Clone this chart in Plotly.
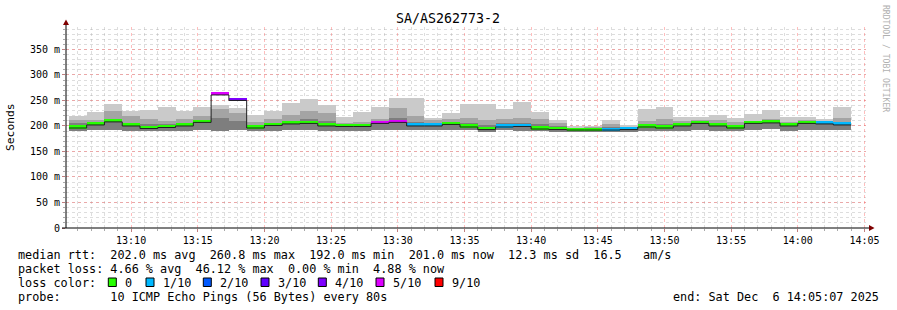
import plotly.graph_objects as go
import pandas as pd

# ---------------- data ----------------
title = "SA/AS262773-2"
first_step = "2025-12-06 13:05:20"
step_seconds = 80
range_start = "2025-12-06 13:05:07"
range_end = "2025-12-06 14:05:07"

# smoke envelope (ms): highest ping, 2nd highest band, 3rd band, lowest ping
smoke_top = [220, 227, 243, 230, 232, 237, 230, 237, 242, 235, 222, 230, 245, 253, 242,
             217, 227, 237, 255, 255, 216, 225, 243, 243, 233, 247, 227, 211, 200, 200,
             211, 201, 233, 237, 217, 217, 221, 216, 223, 231, 217, 217, 214, 237]
smoke_hi2 = [212, 211, 230, 219, 213, 210, 214, 219, 234, 225, 207, 214, 222, 230, 226,
             206, 207, 214, 236, 220, 212, 213, 215, 212, 214, 215, 213, 205, 197, 198,
             204, 196, 209, 213, 209, 211, 212, 207, 210, 213, 207, 211, 210, 216]
smoke_hi3 = [205, 205, 213, 205, 203, 203, 205, 210, 215, 209, 201, 206, 209, 213, 209,
             202, 202, 208, 216, 207, 203, 207, 206, 202, 205, 205, 203, 199, 195, 195,
             198, 195, 203, 204, 204, 207, 206, 202, 206, 207, 203, 206, 206, 207]
smoke_low = [190, 192, 193, 191, 190, 190, 191, 193, 191, 192, 190, 191, 192, 192, 191,
             191, 191, 192, 193, 192, 192, 193, 192, 189, 192, 191, 190, 189, 188, 188,
             188, 189, 190, 190, 190, 192, 190, 190, 193, 194, 190, 193, 193, 192]
median_rtt = [196, 202, 208, 200, 195, 197, 200, 207, 260.8, 250, 196, 201, 204, 205, 200,
              199, 199, 205, 207, 200, 200, 203, 198, 193, 198, 199, 194, 193, 192, 192,
              192, 193, 198, 196, 200, 205, 200, 196, 205, 206, 200, 205, 204, 202]
loss_tenths = [0, 0, 0, 0, 0, 0, 0, 0, 5, 4, 0, 0, 0, 0, 0,
               0, 0, 5, 5, 1, 1, 0, 0, 0, 1, 1, 0, 0, 0, 0,
               1, 1, 0, 0, 0, 0, 0, 0, 0, 0, 0, 0, 1, 1]

legend_levels = [0, 1, 2, 3, 4, 5, 9]
legend_labels = ["0", "1/10", "2/10", "3/10", "4/10", "5/10", "9/10"]
legend_colors = ["#26ff00", "#00b8ff", "#0059ff", "#5e00ff", "#7e00ff", "#dd00ff", "#ff0000"]

y_tick_vals = [0, 50, 100, 150, 200, 250, 300, 350]
y_tick_text = ["0", "50 m", "100 m", "150 m", "200 m", "250 m", "300 m", "350 m"]

stats_line1 = "median rtt:  202.0 ms avg  260.8 ms max  192.0 ms min  201.0 ms now  12.3 ms sd  16.5   am/s"
stats_line2 = "packet loss: 4.66 % avg  46.12 % max  0.00 % min  4.88 % now"
stats_line3 = "loss color:"
stats_line4 = "probe:       10 ICMP Echo Pings (56 Bytes) every 80s"
end_text = "end: Sat Dec  6 14:05:07 2025"
watermark = "RRDTOOL / TOBI OETIKER"

# ---------------- layout helpers ----------------
W, H = 897, 310
L, R, T, B = 66, 866, 27, 228
Y_TOP = 394


def px(x):
    return (x - L) / (R - L)


def py(y):
    return (B - y) / (B - T)


def nb(s):
    return s.replace(" ", "\u00a0")


MONO = "DejaVu Sans Mono"
n = len(median_rtt)
step_ms = step_seconds * 1000
edges = pd.date_range(first_step, periods=n + 1, freq=f"{step_seconds}s")
centers = edges[:-1] + pd.Timedelta(seconds=step_seconds / 2)

fig = go.Figure()

# smoke layers
for hi, col in [(smoke_top, "#cacaca"), (smoke_hi2, "#a4a4a4"), (smoke_hi3, "#7e7e7e")]:
    fig.add_trace(go.Bar(
        x=centers, y=[h - l for h, l in zip(hi, smoke_low)], base=smoke_low,
        width=step_ms, marker=dict(color=col, line=dict(width=0)),
        showlegend=False, hoverinfo="skip"))

# loss-coloured median band
for lvl, col in zip(legend_levels, legend_colors):
    idx = [i for i, v in enumerate(loss_tenths) if v == lvl]
    if not idx:
        continue
    fig.add_trace(go.Bar(
        x=[centers[i] for i in idx], y=[6.0] * len(idx),
        base=[median_rtt[i] - 1.0 for i in idx],
        width=step_ms, marker=dict(color=col, line=dict(width=0)),
        showlegend=False, hoverinfo="skip"))

# black median step line
fig.add_trace(go.Scatter(
    x=list(edges), y=median_rtt + [median_rtt[-1]], mode="lines",
    line=dict(color="#202020", width=1, shape="hv"),
    showlegend=False, hoverinfo="skip"))

shapes = []
# axis extension + arrows
shapes.append(dict(type="line", xref="paper", yref="paper", x0=0, x1=0, y0=0, y1=py(22),
                   line=dict(color="#000000", width=1)))
shapes.append(dict(type="line", xref="paper", yref="paper", x0=px(62), x1=px(870), y0=0, y1=0,
                   line=dict(color="#000000", width=1)))
shapes.append(dict(type="path", xref="paper", yref="paper",
                   path=f"M {px(63)} {py(25)} L {px(69)} {py(25)} L {px(66)} {py(19.5)} Z",
                   fillcolor="#7f0000", line=dict(width=0)))
shapes.append(dict(type="path", xref="paper", yref="paper",
                   path=f"M {px(869)} {py(225)} L {px(869)} {py(231)} L {px(874.5)} {py(228)} Z",
                   fillcolor="#7f0000", line=dict(width=0)))

annotations = []
annotations.append(dict(text=title, xref="paper", yref="paper", x=px(448), y=py(19),
                        xanchor="center", yanchor="middle", showarrow=False,
                        font=dict(family=MONO, size=13.3, color="#000000")))
annotations.append(dict(text="Seconds", xref="paper", yref="paper", x=px(11), y=py(127),
                        xanchor="center", yanchor="middle", showarrow=False, textangle=-90,
                        font=dict(family=MONO, size=11.3, color="#000000")))
annotations.append(dict(text=nb(watermark), xref="paper", yref="paper", x=px(886), y=py(59),
                        xanchor="center", yanchor="middle", showarrow=False, textangle=90,
                        font=dict(family=MONO, size=8.1, color="#b0b0b0")))

LEG = 11.8
for txt, yy in [(stats_line1, 255), (stats_line2, 268.5), (stats_line3, 282.5), (stats_line4, 296.5)]:
    annotations.append(dict(text=nb(txt), xref="paper", yref="paper", x=px(16), y=py(yy),
                            xanchor="left", yanchor="middle", showarrow=False,
                            font=dict(family=MONO, size=LEG, color="#000000")))
annotations.append(dict(text=nb(end_text), xref="paper", yref="paper", x=px(881), y=py(296.5),
                        xanchor="right", yanchor="middle", showarrow=False,
                        font=dict(family=MONO, size=LEG, color="#000000")))

box_x = [108.3, 146, 203.3, 261, 318.3, 376, 435]
for bx, lab, col in zip(box_x, legend_labels, legend_colors):
    shapes.append(dict(type="rect", xref="paper", yref="paper",
                       x0=px(bx), x1=px(bx + 8), y0=py(286.5), y1=py(278),
                       fillcolor=col, line=dict(color="#000000", width=1)))
    annotations.append(dict(text=nb(lab), xref="paper", yref="paper", x=px(bx + 14.5), y=py(282.5),
                            xanchor="left", yanchor="middle", showarrow=False,
                            font=dict(family=MONO, size=LEG, color="#000000")))

fig.update_layout(
    width=W, height=H, margin=dict(l=L, r=W - R, t=T, b=H - B, pad=0),
    paper_bgcolor="#ffffff", plot_bgcolor="#ffffff",
    barmode="overlay", bargap=0, showlegend=False,
    shapes=shapes, annotations=annotations,
    xaxis=dict(
        type="date", range=[range_start, range_end],
        tick0="2025-12-06 13:10:00", dtick=300000, tickformat="%H:%M",
        showgrid=True, gridcolor="rgba(255,90,90,0.4)", griddash="dot", gridwidth=1,
        minor=dict(dtick=60000, tick0="2025-12-06 13:06:00", showgrid=True,
                   gridcolor="rgba(170,170,170,0.4)", griddash="dot", gridwidth=1,
                   ticks="outside", ticklen=2, tickcolor="#aaaaaa"),
        ticks="outside", ticklen=3, tickcolor="#c08080",
        showline=False, zeroline=False,
        tickfont=dict(family=MONO, size=10, color="#000000"),
        fixedrange=True,
    ),
    yaxis=dict(
        range=[0, Y_TOP], tickvals=y_tick_vals, ticktext=y_tick_text,
        showgrid=True, gridcolor="rgba(255,90,90,0.4)", griddash="dot", gridwidth=1,
        minor=dict(dtick=10, tick0=0, showgrid=True,
                   gridcolor="rgba(170,170,170,0.4)", griddash="dot", gridwidth=1,
                   ticks="outside", ticklen=2, tickcolor="#aaaaaa"),
        ticks="outside", ticklen=3, tickcolor="#c08080",
        showline=False, zeroline=False,
        tickfont=dict(family=MONO, size=10, color="#000000"),
        fixedrange=True,
    ),
)

fig.write_html("out.html", config={"displayModeBar": False})
